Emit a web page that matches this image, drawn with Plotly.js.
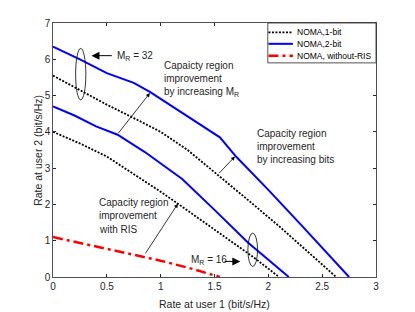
<!DOCTYPE html>
<html><head><meta charset="utf-8">
<script src="https://cdn.plot.ly/plotly-3.0.1.min.js"></script>
<style>html,body{margin:0;padding:0;background:#fff}#chart{width:415px;height:312px}</style>
</head><body><div id="chart"></div>
<script>
// Data
const oneBit32_x = [0, 0.25, 0.5, 0.75, 1.0, 1.25, 1.53, 1.8, 2.1, 2.4, 2.63];
const oneBit32_y = [5.55, 5.15, 4.75, 4.38, 4.0, 3.5, 2.82, 2.15, 1.4, 0.62, 0];
const twoBit32_x = [0, 0.25, 0.5, 0.75, 0.9, 1.1, 1.35, 1.55, 1.7, 2.0, 2.3, 2.55, 2.75];
const twoBit32_y = [6.35, 6.0, 5.62, 5.35, 5.1, 4.72, 4.24, 3.85, 3.32, 2.4, 1.45, 0.65, 0];
const oneBit16_x = [0, 0.25, 0.5, 0.74, 1.0, 1.16, 1.5, 1.86, 2.1];
const oneBit16_y = [4.0, 3.68, 3.32, 2.86, 2.35, 2.02, 1.3, 0.55, 0];
const twoBit16_x = [0, 0.2, 0.4, 0.6, 0.85, 1.1, 1.2, 1.5, 1.81, 2.19];
const twoBit16_y = [4.7, 4.45, 4.15, 3.92, 3.45, 2.91, 2.7, 1.85, 0.95, 0];
const noRis_x = [0, 0.5, 0.84, 1.0, 1.3, 1.55];
const noRis_y = [1.1, 0.78, 0.57, 0.45, 0.22, 0];
const seriesNames = ['NOMA,1-bit', 'NOMA,2-bit', 'NOMA, without-RIS'];
const xTicks = [0, 0.5, 1, 1.5, 2, 2.5, 3];
const xTickText = ['0', '0.5', '1', '1.5', '2', '2.5', '3'];
const yTicks = [0, 1, 2, 3, 4, 5, 6, 7];
const xTitle = 'Rate at user 1 (bit/s/Hz)';
const yTitle = 'Rate at user 2 (bit/s/Hz)';

const blackLine = {color: '#000', width: 1.8, dash: '2px,1.5px'};
const blueLine = {color: '#0000ff', width: 2};
const redLine = {color: '#ff0000', width: 2.5, dash: '10px,4px,3px,4px'};
const styles = [blackLine, blueLine, redLine];

const traces = [
  {x: oneBit32_x, y: oneBit32_y, mode: 'lines', line: blackLine, name: seriesNames[0]},
  {x: twoBit32_x, y: twoBit32_y, mode: 'lines', line: blueLine, name: seriesNames[1]},
  {x: noRis_x, y: noRis_y, mode: 'lines', line: redLine, name: seriesNames[2]},
  {x: oneBit16_x, y: oneBit16_y, mode: 'lines', line: blackLine, name: seriesNames[0]},
  {x: twoBit16_x, y: twoBit16_y, mode: 'lines', line: blueLine, name: seriesNames[1]}
];

const fnt = {family: 'Liberation Sans, Arial, sans-serif', size: 10, color: '#262626'};
const txtFont = {family: 'Liberation Sans, Arial, sans-serif', size: 10, color: '#262626'};
const titleFont = {family: fnt.family, size: 10.5, color: '#262626'};

function arrow(x, y, ax, ay, opts) {
  return Object.assign({x: x, y: y, ax: ax, ay: ay, xref: 'x', yref: 'y', axref: 'x', ayref: 'y',
    showarrow: true, arrowhead: 2, arrowsize: 1, arrowwidth: 0.8, arrowcolor: '#000', text: ''}, opts || {});
}
function label(x, y, text) {
  return {x: x, y: y, xref: 'x', yref: 'y', text: text, showarrow: false, xanchor: 'left', yanchor: 'middle',
    align: 'left', font: txtFont};
}

const annotations = [
  arrow(0.357, 6.1, 0.56, 6.1, {arrowhead: 2, arrowsize: 1.6, arrowwidth: 1}),
  label(0.575, 6.1, 'M<sub>R</sub> = 32'),
  label(1.01, 5.83, 'Capaicty region'),
  label(1.01, 5.46, 'improvement'),
  label(1.01, 5.11, 'by increasing M<sub>R</sub>'),
  arrow(0.9, 5.07, 0.595, 3.92),
  label(1.88, 3.95, 'Capacity region'),
  label(1.88, 3.6, 'improvement'),
  label(1.88, 3.23, 'by increasing bits'),
  arrow(1.69, 3.32, 1.53, 2.82),
  label(0.41, 2.06, 'Capacity region'),
  label(0.41, 1.69, 'improvement'),
  label(0.41, 1.32, 'with RIS'),
  arrow(1.16, 2.02, 0.85, 0.61),
  label(1.26, 0.48, 'M<sub>R</sub> = 16'),
  arrow(1.74, 0.43, 1.58, 0.43, {arrowhead: 2, arrowsize: 1.6, arrowwidth: 1}),
  // axis titles
  {x: 0.5, y: -0.106, xref: 'paper', yref: 'paper', text: xTitle, showarrow: false,
    xanchor: 'center', yanchor: 'middle', font: titleFont},
  {x: -0.047, y: 0.5, xref: 'paper', yref: 'paper', text: yTitle, showarrow: false, textangle: -90,
    xanchor: 'center', yanchor: 'middle', font: titleFont}
];

const shapes = [
  {type: 'circle', xref: 'x', yref: 'y', x0: 0.21, x1: 0.305, y0: 4.88, y1: 6.3, line: {color: '#000', width: 0.8}},
  {type: 'circle', xref: 'x', yref: 'y', x0: 1.81, x1: 1.9, y0: 0.29, y1: 1.21, line: {color: '#000', width: 0.8}},
  // legend box
  {type: 'rect', xref: 'paper', yref: 'paper', x0: 0.665, x1: 1, y0: 0.843, y1: 1,
    line: {color: '#262626', width: 0.8}, fillcolor: '#fff', layer: 'above'}
];

// custom legend built from the series names and styles
const legendY = [0.963, 0.918, 0.871];
seriesNames.forEach(function (nm, i) {
  shapes.push({type: 'line', xref: 'paper', yref: 'paper', x0: 0.667, x1: 0.743, y0: legendY[i], y1: legendY[i],
    line: styles[i], layer: 'above'});
  annotations.push({x: 0.748, y: legendY[i], xref: 'paper', yref: 'paper', text: nm, showarrow: false,
    xanchor: 'left', yanchor: 'middle', font: {family: fnt.family, size: 8.5, color: '#000'}});
});

const axisCommon = {showline: true, linecolor: '#262626', linewidth: 0.8, mirror: 'ticks', ticks: 'inside',
  ticklen: 3, tickcolor: '#262626', showgrid: false, zeroline: false, tickfont: fnt};

const layout = {
  width: 415, height: 312,
  margin: {l: 53, r: 39, t: 23, b: 35},
  paper_bgcolor: '#fff', plot_bgcolor: '#fff',
  font: fnt,
  xaxis: Object.assign({}, axisCommon, {range: [0, 3], tickvals: xTicks, ticktext: xTickText}),
  yaxis: Object.assign({}, axisCommon, {range: [0, 7], tickvals: yTicks}),
  annotations: annotations,
  shapes: shapes,
  showlegend: false
};

Plotly.newPlot('chart', traces, layout, {displayModeBar: false, staticPlot: true});
</script></body></html>
